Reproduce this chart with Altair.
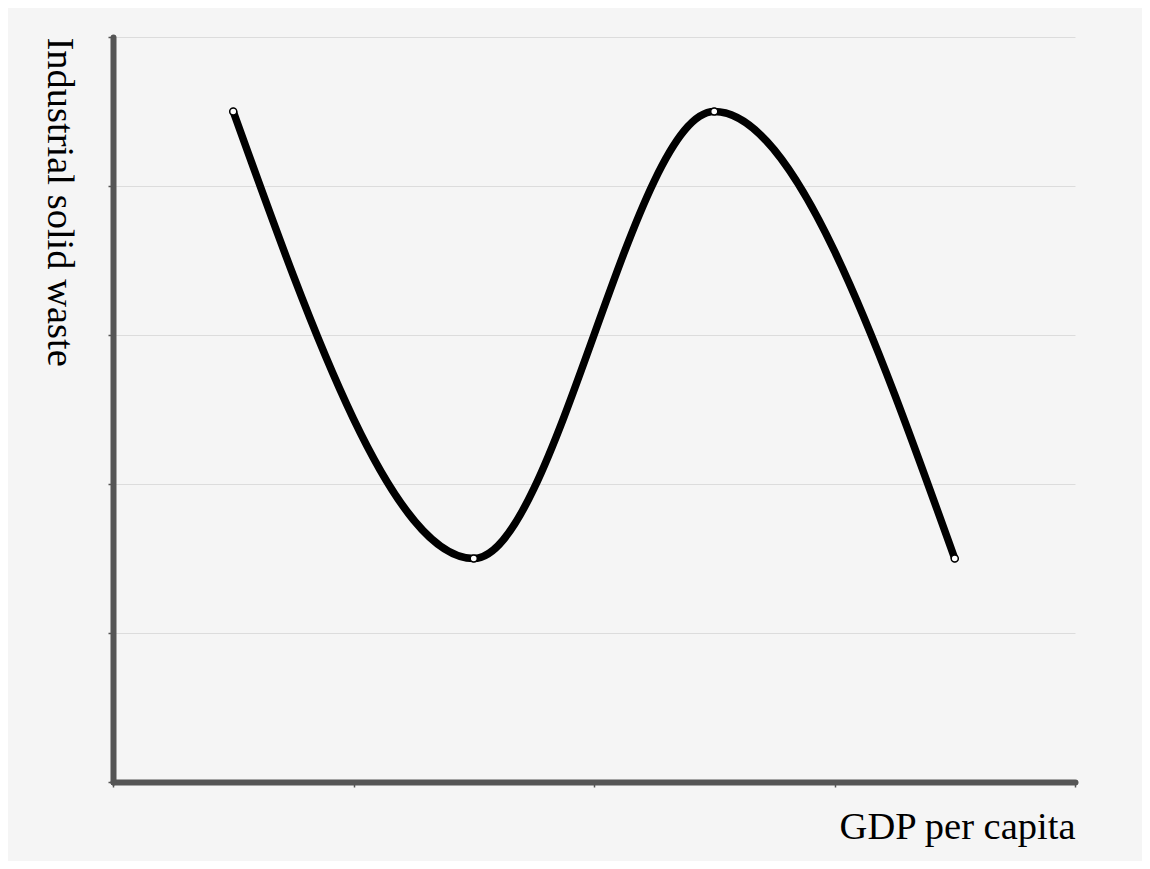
import altair as alt
import pandas as pd

gdp = [0.5, 1.5, 2.5, 3.5]
waste = [4.5, 1.5, 4.5, 1.5]
x_ticks = [0, 1, 2, 3, 4]
y_ticks = [0, 1, 2, 3, 4, 5]

df = pd.DataFrame({"gdp": gdp, "waste": waste})

FONT = "Liberation Serif"

x_enc = alt.X(
    "gdp:Q",
    scale=alt.Scale(domain=[0, 4], nice=False, zero=False),
    axis=alt.Axis(
        values=x_ticks, labels=False, grid=False,
        title="GDP per capita", titleFont=FONT, titleFontSize=38.5,
        titleFontWeight="normal", titleColor="#000",
        titleAlign="right", titleAnchor="end", titleX=962, titleY=56,
        titleBaseline="alphabetic",
        domainColor="#555", domainWidth=6, domainCap="round",
        tickColor="#555", tickWidth=1.5, tickSize=5,
    ),
)
y_enc = alt.Y(
    "waste:Q",
    scale=alt.Scale(domain=[0, 5], nice=False, zero=False),
    axis=alt.Axis(
        values=y_ticks, labels=False, grid=True, gridColor="#dcdcdc", gridWidth=1,
        title="Industrial solid waste", titleFont=FONT, titleFontSize=38.5,
        titleFontWeight="normal", titleColor="#000",
        titleAngle=90, titleAlign="left", titleBaseline="alphabetic",
        titleX=-66, titleY=0,
        domainColor="#555", domainWidth=6, domainCap="round",
        tickColor="#555", tickWidth=1.5, tickSize=5,
    ),
)

line = alt.Chart(df).mark_line(
    color="black", strokeWidth=7.5, interpolate="monotone", strokeCap="round"
).encode(x=x_enc, y=y_enc)

pts = alt.Chart(df).mark_point(
    filled=True, fill="white", stroke="black", strokeWidth=1.5, size=50, opacity=1
).encode(x="gdp:Q", y="waste:Q")

chart = (line + pts).properties(
    width=962, height=745,
    padding={"left": 105, "top": 29, "right": 67, "bottom": 79},
    autosize=alt.AutoSizeParams(type="none"),
    background="#f5f5f5",
).configure_view(stroke=None)

chart.save("out.html", embed_options={"renderer": "svg", "actions": False})
